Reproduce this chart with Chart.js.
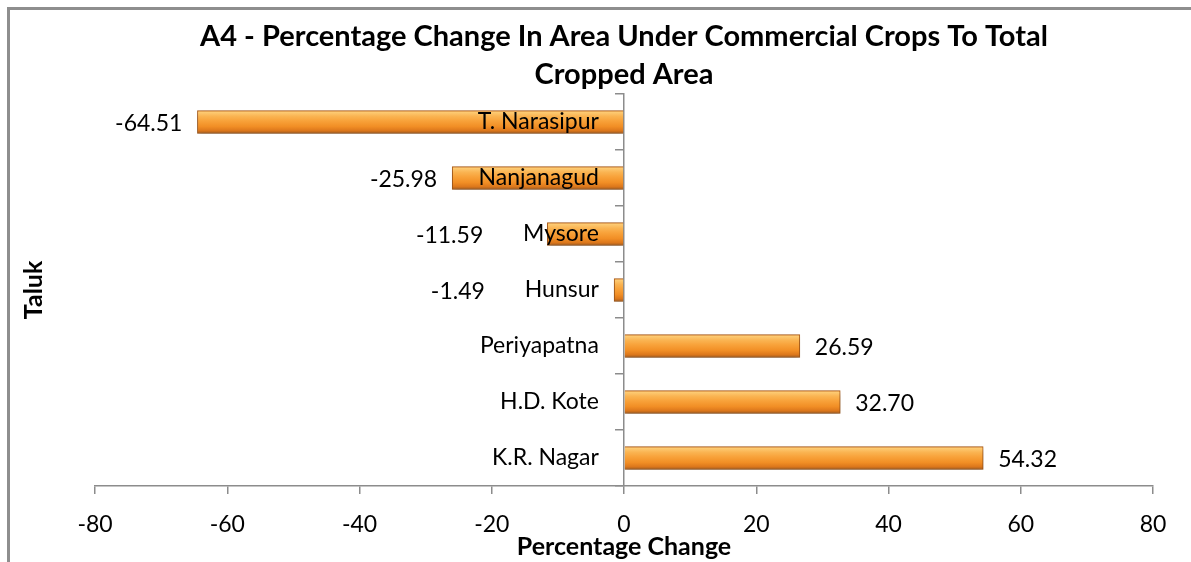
<!DOCTYPE html>
<html>
<head>
<meta charset="utf-8">
<script src="https://cdn.jsdelivr.net/npm/chart.js@4"></script>
<style>
  html, body { margin: 0; padding: 0; background: #fff; overflow: hidden; }
  #frame { position: absolute; left: 7px; top: 7px; width: 1400px; height: 800px;
           border-top: 3px solid #8e8e8e; border-left: 3px solid #8e8e8e; }
  #chart { position: absolute; left: 8px; top: 8px; }
</style>
</head>
<body>
<div id="frame"></div>
<canvas id="chart" width="1224" height="554"></canvas>
<script>
// bottom-to-top, as in the original sheet
const taluks = ["K.R. Nagar", "H.D. Kote", "Periyapatna", "Hunsur", "Mysore", "Nanjanagud", "T. Narasipur"];
const changes = [54.32, 32.70, 26.59, -1.49, -11.59, -25.98, -64.51];
const xTicks = [-80, -60, -40, -20, 0, 20, 40, 60, 80];

const FONT = "Lato";
const AXIS_GREY = "#8c8c8c";
const BAR_H = 23;
const TICK_LEN = 8;
const LABEL_GAP = 25;      // px between zero line and right edge of taluk names
const LABEL_AT = -3.8;     // same gap expressed on the value axis

function barFill(ctx) {
  const chart = ctx.chart;
  if (!chart.chartArea || !chart.scales.y) return "#f29a30";
  const c = chart.scales.y.getPixelForValue(ctx.dataIndex);
  const g = chart.ctx.createLinearGradient(0, c - BAR_H / 2, 0, c + BAR_H / 2);
  g.addColorStop(0, "#e48a2c");
  g.addColorStop(0.08, "#fdca72");
  g.addColorStop(0.25, "#fab452");
  g.addColorStop(0.45, "#f8a23a");
  g.addColorStop(0.7, "#f18e25");
  g.addColorStop(0.87, "#dd781c");
  g.addColorStop(1, "#a65c1c");
  return g;
}

const barShadow = {
  id: "barShadow",
  beforeDatasetsDraw(chart) {
    const c = chart.ctx;
    c.save();
    c.shadowColor = "rgba(0,0,0,0.3)";
    c.shadowBlur = 6;
    c.shadowOffsetY = 3;
  },
  afterDatasetsDraw(chart) {
    chart.ctx.restore();
  }
};

// value labels; negative ones keep clear of the taluk names at the zero line
const valueLabels = {
  id: "valueLabels",
  afterDraw(chart) {
    const c = chart.ctx;
    const x = chart.scales.x;
    const meta = chart.getDatasetMeta(0);
    const x0 = x.getPixelForValue(0);
    c.save();
    c.font = `23px ${FONT}`;
    c.fillStyle = "#000";
    c.textBaseline = "middle";
    meta.data.forEach((bar, i) => {
      const v = changes[i];
      const txt = v.toFixed(2);
      const end = x.getPixelForValue(v);
      if (v >= 0) {
        c.textAlign = "left";
        c.fillText(txt, end + 15, bar.y + 2);
      } else {
        const catLeft = x0 - LABEL_GAP - c.measureText(taluks[i]).width;
        c.textAlign = "right";
        c.fillText(txt, Math.min(end - 15, catLeft - 40), bar.y + 2);
      }
    });
    c.restore();
  }
};

new Chart(document.getElementById("chart"), {
  type: "bar",
  data: {
    labels: taluks,
    datasets: [{
      data: changes,
      yAxisID: "y",
      backgroundColor: barFill,
      borderColor: "#b0601c",
      borderWidth: 1,
      barThickness: BAR_H
    }]
  },
  options: {
    indexAxis: "y",
    responsive: false,
    animation: false,
    layout: { padding: { left: 7, right: 79, top: 0, bottom: 0 } },
    plugins: {
      legend: { display: false },
      tooltip: { enabled: false },
      title: {
        display: true,
        fullSize: false,
        text: ["A4 - Percentage Change In Area Under Commercial Crops To Total", "Cropped Area"],
        color: "#000",
        font: { family: FONT, size: 29, weight: "bold", lineHeight: 1.31 },
        padding: { top: 10, bottom: 0 }
      }
    },
    scales: {
      y: {
        type: "category",
        reverse: true,
        position: { x: 0 },
        grid: { drawOnChartArea: false, drawTicks: true, tickLength: TICK_LEN, color: AXIS_GREY, lineWidth: 1.5 },
        border: { display: true, color: AXIS_GREY, width: 1.5 },
        ticks: { display: false }
      },
      yLabels: {
        type: "category",
        reverse: true,
        offset: true,
        position: { x: LABEL_AT },
        grid: { display: false, offset: true },
        border: { display: false },
        ticks: { z: 1, color: "#000", font: { family: FONT, size: 23 } }
      },
      yT: {
        type: "category",
        position: "left",
        reverse: true,
        grid: { display: false },
        border: { display: false },
        ticks: { display: false },
        title: { display: true, text: "Taluk", color: "#000", font: { family: FONT, size: 25, weight: "bold" }, padding: { top: 4, bottom: 4 } },
        afterFit: (s) => { s.width = 80; }
      },
      x: {
        type: "linear",
        position: "bottom",
        min: -80,
        max: 80,
        afterBuildTicks: (s) => { s.ticks = xTicks.map((v) => ({ value: v })); },
        afterFit: (s) => { s.height = 76; },
        grid: { drawOnChartArea: false, drawTicks: true, tickLength: TICK_LEN, color: AXIS_GREY, lineWidth: 1.5 },
        border: { display: true, color: AXIS_GREY, width: 1.5 },
        ticks: { color: "#000", padding: 17, font: { family: FONT, size: 23 } },
        title: { display: true, text: "Percentage Change", color: "#000", font: { family: FONT, size: 25, weight: "bold" }, padding: { top: 0, bottom: 0 } }
      }
    }
  },
  plugins: [barShadow, valueLabels]
});
</script>
</body>
</html>
